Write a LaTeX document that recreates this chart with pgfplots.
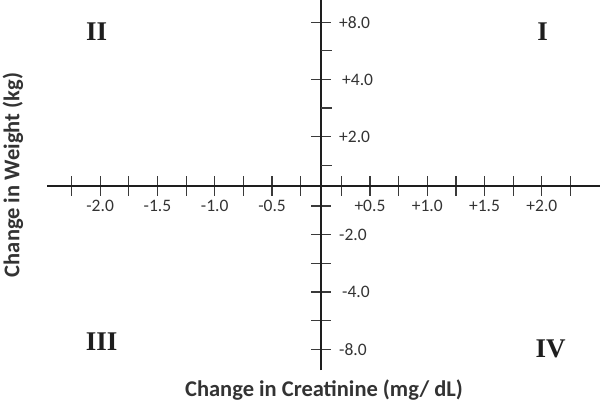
\documentclass[border=0pt]{standalone}
\usepackage{pgfplots}
\pgfplotsset{compat=1.18}
\usepackage{fontspec}
\setmainfont{Carlito}
\newfontfamily\romanfont{Liberation Serif}
\definecolor{axcol}{HTML}{1E1E1E}
\definecolor{tickcol}{HTML}{3A3A3A}
\definecolor{txtcol}{HTML}{333333}
\begin{document}
\begin{tikzpicture}
\useasboundingbox (0pt,0pt) rectangle (600pt,402pt);
\begin{axis}[
  at={(47pt,32pt)}, anchor=south west,
  x=1pt, y=1pt,
  xmin=-274, xmax=279, ymin=-184.3, ymax=185.7,
  axis lines=middle,
  axis line style={-, line width=2pt, color=axcol},
  xtick={-249.5,-220.85,-192.2,-163.55,-134.9,-106.25,-77.6,-48.95,-20.3,20.3,48.95,77.6,106.25,134.9,163.55,192.2,220.85,249.5},
  xticklabels={{},{-2.0},{},{-1.5},{},{-1.0},{},{-0.5},{},{},{+0.5},{},{+1.0},{},{+1.5},{},{+2.0},{}},
  ytick={-163.55,-134.9,-106.25,-77.6,-48.95,-20.3,48.95,106.25,163.55},
  yticklabels={{-8.0},{},{\hspace{3pt}-4.0},{},{-2.0},{},{+2.0},{\hspace{3pt}+4.0},{+8.0}},
  extra y ticks={20.3,77.6,134.9},
  extra y tick labels={},
  extra y tick style={tick align=inside, major tick length=11pt},
  major tick length=20pt, tick align=center,
  tick style={line width=1.2pt, color=tickcol},
  xticklabel style={anchor=center, yshift=-10.5pt, inner sep=0pt, font=\fontsize{17.5}{17.5}\selectfont, text=txtcol},
  yticklabel style={anchor=west, xshift=28pt, inner sep=0pt, font=\fontsize{17.5}{17.5}\selectfont, text=txtcol},
  xlabel={Change in Creatinine (mg/ dL)},
  ylabel={Change in Weight (kg)},
  xlabel style={at={(axis description cs:0.501,-0.0722)}, anchor=base, inner sep=0pt, font=\bfseries\fontsize{22.5}{22.5}\selectfont, text=txtcol},
  ylabel style={at={(axis description cs:-0.0501,0.527)}, rotate=90, anchor=base, inner sep=0pt, font=\bfseries\fontsize{22.5}{22.5}\selectfont, text=txtcol},
  clip=false,
]
\node[font=\romanfont\bfseries\fontsize{27}{27}\selectfont, text=axcol] at (axis cs:-224.3,154.2) {II};
\node[font=\romanfont\bfseries\fontsize{27}{27}\selectfont, text=axcol] at (axis cs:221.5,153.7) {I};
\node[font=\romanfont\bfseries\fontsize{27}{27}\selectfont, text=axcol] at (axis cs:-219.3,-156.3) {III};
\node[font=\romanfont\bfseries\fontsize{27}{27}\selectfont, text=axcol] at (axis cs:229.5,-163) {IV};
\end{axis}
\end{tikzpicture}
\end{document}
